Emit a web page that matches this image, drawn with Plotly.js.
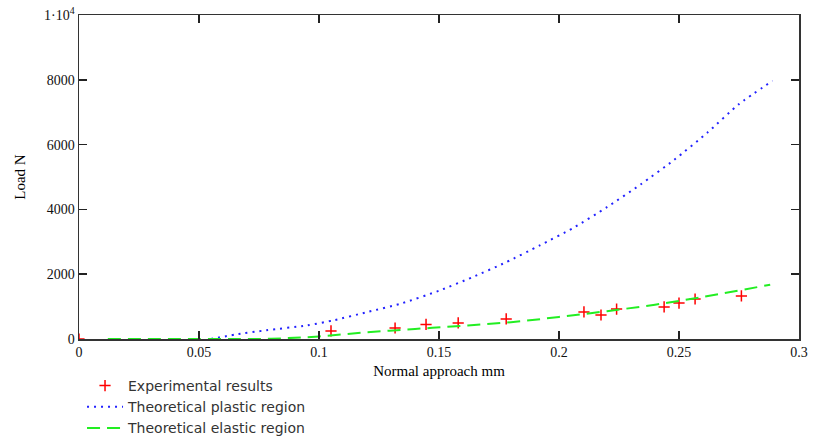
<!DOCTYPE html>
<html>
<head>
<meta charset="utf-8">
<script src="https://cdn.plot.ly/plotly-3.0.1.min.js"></script>
<style>html,body{margin:0;padding:0;background:#fff;}#chart{width:814px;height:441px;}</style>
</head>
<body>
<div id="chart"></div>
<script>
// Experimental results
const expX = [0, 0.105, 0.1317, 0.1446, 0.158, 0.178, 0.2104, 0.2175, 0.224, 0.2438, 0.25, 0.2567, 0.276];
const expY = [0, 250, 340, 450, 495, 620, 835, 740, 925, 990, 1110, 1235, 1330];
// Theoretical plastic region
const plasticX = [0.055, 0.065, 0.078, 0.095, 0.106, 0.12, 0.134, 0.15, 0.164, 0.178, 0.192, 0.206, 0.22, 0.234, 0.248, 0.262, 0.275, 0.289];
const plasticY = [0, 135, 270, 420, 575, 830, 1090, 1490, 1910, 2370, 2890, 3430, 4070, 4770, 5530, 6380, 7250, 7970];
// Theoretical elastic region
const elasticX = [0.012, 0.05, 0.08, 0.1, 0.12, 0.14, 0.16, 0.18, 0.2, 0.22, 0.24, 0.26, 0.288];
const elasticY = [0, 0, 10, 80, 210, 310, 410, 520, 680, 860, 1060, 1300, 1675];
// Axis ticks
const xTickVals = [0, 0.05, 0.1, 0.15, 0.2, 0.25, 0.3];
const xTickText = ['0', '0.05', '0.1', '0.15', '0.2', '0.25', '0.3'];
const yTickVals = [0, 2000, 4000, 6000, 8000, 10000];
const yTickText = ['0', '2000', '4000', '6000', '8000', '1·10<sup>4</sup>'];

const traces = [
  {x: expX, y: expY, type: 'scatter', mode: 'markers', name: 'Experimental results',
   marker: {symbol: 'cross-thin', size: 8, color: '#ff0000', line: {color: '#ff0000', width: 1.5}}},
  {x: plasticX, y: plasticY, type: 'scatter', mode: 'lines', name: 'Theoretical plastic region',
   line: {color: '#2222ff', width: 2, dash: '2px,5px', shape: 'spline', smoothing: 0.6}},
  {x: elasticX, y: elasticY, type: 'scatter', mode: 'lines', name: 'Theoretical elastic region',
   line: {color: '#22ee22', width: 2, dash: '13px,7px', shape: 'spline'}}
];

const axisFont = {family: 'Liberation Serif, Times New Roman, serif', size: 14, color: '#111'};
const titleFont = {family: 'Liberation Serif, Times New Roman, serif', size: 15, color: '#000'};

const layout = {
  width: 814, height: 441,
  margin: {l: 79, r: 15, t: 15, b: 102, autoexpand: false},
  paper_bgcolor: '#fff', plot_bgcolor: '#fff',
  showlegend: true,
  legend: {x: 0.0042, xanchor: 'left', y: -0.0957, yanchor: 'top', orientation: 'v',
           font: {family: 'DejaVu Sans, Verdana, sans-serif', size: 14, color: '#333'},
           tracegroupgap: 0, itemwidth: 36, bgcolor: 'rgba(0,0,0,0)'},
  xaxis: {range: [0, 0.3], tickvals: xTickVals, ticktext: xTickText,
          ticks: 'inside', ticklen: 8, tickcolor: '#222', tickwidth: 1.5,
          showline: true, linecolor: '#333', linewidth: 1.5, mirror: 'ticks',
          showgrid: false, zeroline: false, tickfont: axisFont,
          title: {text: 'Normal approach mm', font: titleFont, standoff: 6}},
  yaxis: {range: [0, 10000], tickvals: yTickVals, ticktext: yTickText,
          ticks: 'inside', ticklen: 8, tickcolor: '#222', tickwidth: 1.5,
          showline: true, linecolor: '#333', linewidth: 1.5, mirror: 'ticks',
          showgrid: false, zeroline: false, tickfont: axisFont,
          title: {text: 'Load N', font: titleFont, standoff: 15}}
};

Plotly.newPlot('chart', traces, layout, {displayModeBar: false, staticPlot: true});
</script>
</body>
</html>
